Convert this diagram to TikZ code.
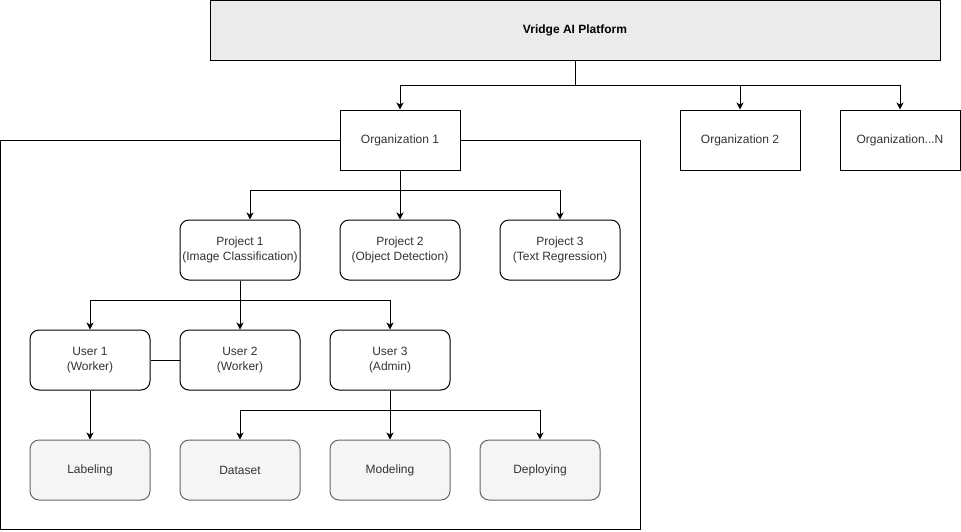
\documentclass[tikz,border=0pt]{standalone}
\usepackage{fontspec}
\setmainfont{Liberation Sans}
\usepackage{xcolor}
\usetikzlibrary{arrows.meta}
\definecolor{platformfill}{HTML}{EBEBEB}
\definecolor{taskfill}{HTML}{F5F5F5}
\definecolor{taskline}{HTML}{666666}
\definecolor{tasktext}{HTML}{333333}
\newcommand{\boxfont}{\fontsize{12}{15}\selectfont}

\begin{document}
\begin{tikzpicture}[x=1pt, y=-1pt, line width=1pt,
    orgbox/.style={draw, fill=white, minimum width=120pt, minimum height=60pt,
      inner sep=0pt, align=center, font=\boxfont, text=tasktext},
    projbox/.style={orgbox, rounded corners=9pt},
    taskbox/.style={projbox, draw=taskline, fill=taskfill},
    link/.style={-{Stealth[length=7pt, width=7pt, inset=2pt]}}]
    \useasboundingbox (0,0) rectangle (961,531);
    % organization frame
    \draw (0.5,140) rectangle (640,529.5);
    % platform and organizations
    \node[orgbox, fill=platformfill, minimum width=730pt, text=black,
      font=\boxfont\bfseries] (vap) at (575,30) {Vridge AI Platform};
    \node[orgbox] (org1) at (400,140) {Organization 1};
    \node[orgbox] (org2) at (740,140) {Organization 2};
    \node[orgbox] (orgn) at (900,140) {Organization...N};
    % projects
    \node[projbox] (p1) at (240,250) {Project 1\\(Image Classification)};
    \node[projbox] (p2) at (400,250) {Project 2\\(Object Detection)};
    \node[projbox] (p3) at (560,250) {Project 3\\(Text Regression)};
    % users
    \node[projbox] (u1) at (90,360) {User 1\\(Worker)};
    \node[projbox] (u2) at (240,360) {User 2\\(Worker)};
    \node[projbox] (u3) at (390,360) {User 3\\(Admin)};
    % tasks
    \node[taskbox] (label) at (90,470) {Labeling};
    \node[taskbox] (data) at (240,470) {Dataset};
    \node[taskbox] (model) at (390,470) {Modeling};
    \node[taskbox] (deploy) at (540,470) {Deploying};
    % connectors
    \draw[link] (vap.south) -- ++(0,25) -| (org1.north);
    \draw[link] (vap.south) -- ++(0,25) -| (org2.north);
    \draw[link] (vap.south) -- ++(0,25) -| (orgn.north);
    \draw[link] (org1.south) -- ++(0,20) -| ([xshift=10pt]p1.north);
    \draw[link] (org1.south) -- (p2.north);
    \draw[link] (org1.south) -- ++(0,20) -| (p3.north);
    \draw[link] (p1.south) -- ++(0,20) -| (u1.north);
    \draw[link] (p1.south) -- (u2.north);
    \draw[link] (p1.south) -- ++(0,20) -| (u3.north);
    \draw (u1.east) -- (u2.west);
    \draw[link] (u1.south) -- (label.north);
    \draw[link] (u3.south) -- ++(0,20) -| (data.north);
    \draw[link] (u3.south) -- (model.north);
    \draw[link] (u3.south) -- ++(0,20) -| (deploy.north);
  \end{tikzpicture}
\end{document}
